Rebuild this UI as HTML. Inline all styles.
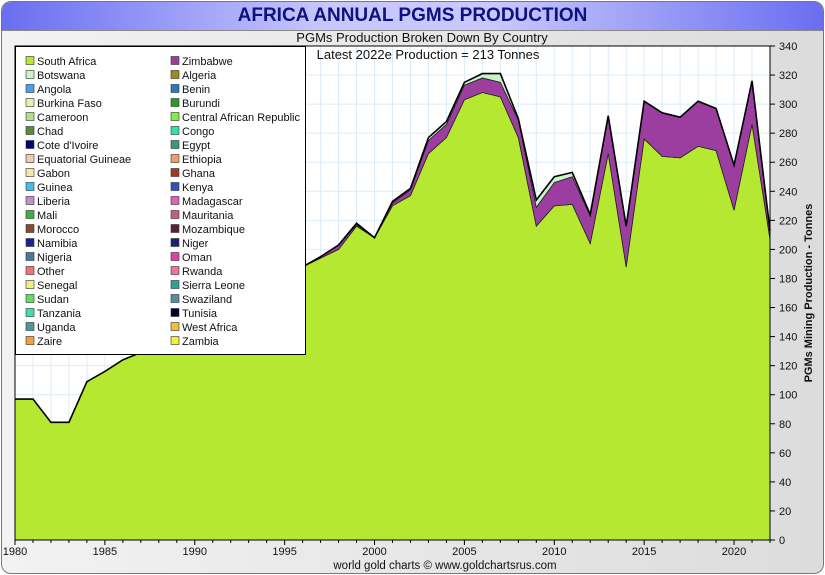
<!DOCTYPE html>
<html><head><meta charset="utf-8"><style>
body{margin:0;width:825px;height:575px;overflow:hidden;background:#fff;font-family:"Liberation Sans",sans-serif;}
#frame{position:absolute;left:1px;top:1px;width:821px;height:571px;border:1px solid #777;border-radius:10px;background:linear-gradient(90deg,#f2f2f2,#dcdcdc);overflow:hidden;}
#titlebar{position:absolute;left:0;top:0;width:821px;height:28px;background:linear-gradient(90deg,#6a6ef0,#c8c8ff 40%,#c8c8ff 60%,#6a6ef0);border-bottom:1px solid #888;}
#title{position:absolute;left:0;width:821px;top:3px;text-align:center;font-weight:bold;font-size:19px;color:#101080;}
svg{position:absolute;left:0;top:0;}
</style></head><body>
<div id="frame">
<div id="titlebar"><div id="title">AFRICA ANNUAL PGMS PRODUCTION</div></div>
</div>
<svg id="chart" width="825" height="575"></svg>
<script>
const years=[1980,1981,1982,1983,1984,1985,1986,1987,1988,1989,1990,1991,1992,1993,1994,1995,1996,1997,1998,1999,2000,2001,2002,2003,2004,2005,2006,2007,2008,2009,2010,2011,2012,2013,2014,2015,2016,2017,2018,2019,2020,2021,2022];
const southAfrica=[97,97,81,81,109,116,124,129,134,139,146,152,158,165,172,180,188,194,200,216,208,230,237,266,277,303,308,305,277,216,230,231,204,266,188,276,264,263,271,268,227,286,207];
const zimbabwe=[0,0,0,0,0,0,0,0,0,0,0,0,0,0,0,0,0,1,3,1,0,2,4,9,9,10,10,10,12,13,16,19,19,26,28,26,30,28,31,29,31,30,6];
const botswana=[0,0,0,0,0,0,0,0,0,0,0,0,0,0,0,0,0,0,0,1,0,1,1,2,2,2,3,6,1,5,4,3,1,0,0,0,0,0,0,0,0,0,0];
const yTicks=[0,20,40,60,80,100,120,140,160,180,200,220,240,260,280,300,320,340];
const xLabels=[1980,1985,1990,1995,2000,2005,2010,2015,2020];
const legendCol1=["South Africa","Botswana","Angola","Burkina Faso","Cameroon","Chad","Cote d'Ivoire","Equatorial Guineae","Gabon","Guinea","Liberia","Mali","Morocco","Namibia","Nigeria","Other","Senegal","Sudan","Tanzania","Uganda","Zaire"];
const legendColors1=["#b5e830","#c8f5c8","#4aa0e8","#e0f5b0","#b0e08a","#5a8a3a","#000080","#f5c8b0","#f5e8a8","#40c0f0","#c090d0","#40b040","#8a4a30","#202090","#4a7a9a","#f07080","#f0f080","#60e060","#40e0a0","#4a9aa0","#f0a040"];
const legendCol2=["Zimbabwe","Algeria","Benin","Burundi","Central African Republic","Congo","Egypt","Ethiopia","Ghana","Kenya","Madagascar","Mauritania","Mozambique","Niger","Oman","Rwanda","Sierra Leone","Swaziland","Tunisia","West Africa","Zambia"];
const legendColors2=["#9c3ea0","#9a8a20","#2a7ac0","#2a9a2a","#80f040","#30e0b0","#3a9a7a","#f0a060","#a03a20","#3050c0","#e060c0","#c06080","#602030","#202070","#e040a0","#f070a0","#30a090","#5090a0","#000030","#f0c030","#f0f040"];

const svg=document.getElementById('chart');const NS='http://www.w3.org/2000/svg';
const L=15,R=770,T=46,B=540;
const xs=y=>L+(y-1980)*(R-L)/42;
const ys=v=>B-v*(B-T)/340;
function mk(t,a,p){const e=document.createElementNS(NS,t);for(const k in a)e.setAttribute(k,a[k]);(p||svg).appendChild(e);return e;}
function txt(s,a){const e=mk('text',a);e.textContent=s;return e;}
let e=txt("PGMs Production Broken Down By Country",{x:422,y:42,'text-anchor':'middle','font-size':13,fill:'#111'});

e=mk('rect',{x:L,y:T,width:R-L,height:B-T,fill:'#fff'});

for(let y=1980;y<=2022;y++){e=mk('line',{x1:xs(y),x2:xs(y),y1:T,y2:B,stroke:'#dcebf7','stroke-width':1});}
for(const v of yTicks){e=mk('line',{x1:L,x2:R,y1:ys(v),y2:ys(v),stroke:'#dcebf7','stroke-width':1});}
const layers=[[southAfrica,'#b5e830','area-south-africa'],[zimbabwe,'#9c3ea0','area-zimbabwe'],[botswana,'#c8f5c8','area-botswana']];
let base=years.map(()=>0);
for(const [vals,col,name] of layers){
 const top=base.map((b,i)=>b+vals[i]);
 let d='M'+years.map((y,i)=>xs(y)+','+ys(top[i])).join(' L');
 for(let i=years.length-1;i>=0;i--)d+=' L'+xs(years[i])+','+ys(base[i]);
 e=mk('path',{d:d+'Z',fill:col,stroke:'#222','stroke-width':0.8});
 
 base=top;
}
e=mk('polyline',{points:years.map((y,i)=>xs(y)+','+ys(base[i])).join(' '),fill:'none',stroke:'#000','stroke-width':1.6});

e=txt("Latest 2022e Production = 213 Tonnes",{x:428,y:59,'text-anchor':'middle','font-size':13,fill:'#111'});

e=mk('rect',{x:L,y:T,width:R-L,height:B-T,fill:'none',stroke:'#000','stroke-width':1});

for(const v of yTicks){
 e=mk('line',{x1:R,x2:R+5,y1:ys(v),y2:ys(v),stroke:'#000'});
 e=txt(String(v),{x:R+9,y:ys(v)+4,'font-size':11,fill:'#111'});
}
for(let y=1980;y<=2022;y++){
 e=mk('line',{x1:xs(y),x2:xs(y),y1:B,y2:B+(y%5==0?5:3),stroke:'#000'});
}
for(const y of xLabels){e=txt(String(y),{x:xs(y),y:555,'text-anchor':'middle','font-size':11,fill:'#111'});}
e=txt("PGMs Mining Production - Tonnes",{x:0,y:0,transform:'translate(812,293) rotate(-90)','text-anchor':'middle','font-size':11,'font-weight':'bold',fill:'#111'});

e=txt("world gold charts © www.goldchartsrus.com",{x:445,y:569,'text-anchor':'middle','font-size':11.5,fill:'#111'});

e=mk('rect',{x:L+0.5,y:T+0.5,width:290,height:308,fill:'#fff',stroke:'#000','stroke-width':1});

function entries(names,cols,sx,tx){names.forEach((n,i)=>{const yy=61+i*14;
 let r=mk('rect',{x:sx,y:yy-4.5,width:8,height:8,fill:cols[i],stroke:'#333','stroke-width':0.6});
 
 let t=txt(n,{x:tx,y:yy+4,'font-size':11,fill:'#111'});
 });}
entries(legendCol1,legendColors1,26,37);
entries(legendCol2,legendColors2,171,182);
</script>
</body></html>
